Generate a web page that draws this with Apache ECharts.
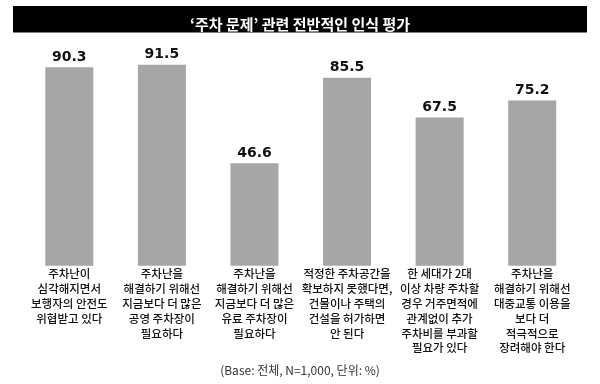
<!DOCTYPE html>
<html>
<head>
<meta charset="utf-8">
<script src="https://cdn.jsdelivr.net/npm/echarts@6/dist/echarts.min.js"></script>
<style>
html,body{margin:0;padding:0;background:#fff;}
#c{width:600px;height:384px;}
</style>
</head>
<body>
<div id="c"></div>
<script>
const titleText = "‘주차 문제’ 관련 전반적인 인식 평가";
const footnote = "(Base: 전체, N=1,000, 단위: %)";
const categories = [
  "주차난이\n심각해지면서\n보행자의 안전도\n위협받고 있다",
  "주차난을\n해결하기 위해선\n지금보다 더 많은\n공영 주차장이\n필요하다",
  "주차난을\n해결하기 위해선\n지금보다 더 많은\n유료 주차장이\n필요하다",
  "적정한 주차공간을\n확보하지 못했다면,\n건물이나 주택의\n건설을 허가하면\n안 된다",
  "한 세대가 2대\n이상 차량 주차할\n경우 거주면적에\n관계없이 추가\n주차비를 부과할\n필요가 있다",
  "주차난을\n해결하기 위해선\n대중교통 이용을\n보다 더\n적극적으로\n장려해야 한다"
];
const values = [90.3, 91.5, 46.6, 85.5, 67.5, 75.2];

const chart = echarts.init(document.getElementById('c'), null, {renderer: 'canvas'});
chart.setOption({
  backgroundColor: '#ffffff',
  animation: false,
  graphic: [{
    type: 'rect',
    left: 13, top: 6,
    shape: {width: 574, height: 26.5},
    style: {fill: '#000000'},
    z: 0
  }],
  title: [{
    text: titleText,
    left: 'center',
    top: 10,
    textStyle: {color: '#ffffff', fontSize: 15, fontWeight: 'bold', fontFamily: 'Noto Sans CJK KR', lineHeight: 18},
    z: 10
  }, {
    text: footnote,
    left: 'center',
    top: 359,
    textStyle: {color: '#333333', fontSize: 12, fontWeight: 'normal', fontFamily: 'Noto Sans CJK KR'}
  }],
  grid: {left: 23, right: 21.5, top: 46, bottom: 118.3},
  xAxis: {
    type: 'category',
    data: categories,
    axisLine: {show: false},
    axisTick: {show: false},
    axisLabel: {
      interval: 0,
      margin: 1,
      fontSize: 11.5,
      fontWeight: 500,
      lineHeight: 14.8,
      color: '#111111',
      fontFamily: 'Noto Sans CJK KR',
      verticalAlign: 'top'
    }
  },
  yAxis: {
    type: 'value',
    min: 0, max: 100,
    show: false,
    splitLine: {show: false}
  },
  series: [{
    type: 'bar',
    data: values,
    barWidth: 48,
    itemStyle: {color: '#a6a6a6'},
    label: {
      show: true,
      position: 'top',
      distance: 3,
      fontSize: 14,
      fontWeight: 'bold',
      color: '#111111',
      fontFamily: 'DejaVu Sans'
    }
  }]
});
</script>
</body>
</html>
